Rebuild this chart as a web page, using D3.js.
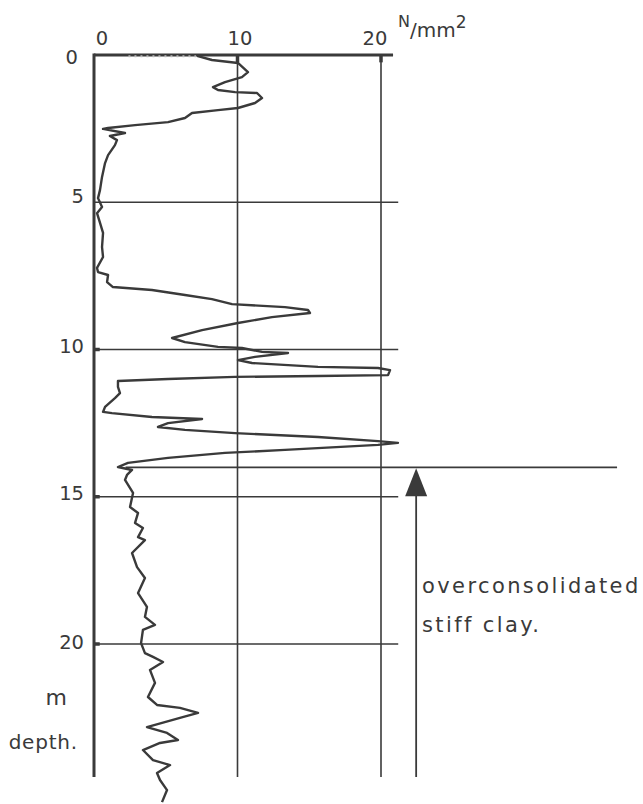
<!DOCTYPE html>
<html>
<head>
<meta charset="utf-8">
<script src="https://cdn.jsdelivr.net/npm/d3@7"></script>
<style>
  html, body { margin: 0; padding: 0; background: #fff; }
  svg text { font-family: "DejaVu Sans", sans-serif; fill: #3a3a3a; }
</style>
</head>
<body>
<svg id="chart" width="643" height="804"></svg>
<script>
// cone resistance (N/mm2) read along depth (m)
const depths = [0.03, 0.17, 0.27, 0.58, 0.75, 0.92, 1.09, 1.19, 1.26, 1.29, 1.46, 1.63, 1.80, 1.87, 1.97,
  2.14, 2.28, 2.38, 2.48, 2.51, 2.65, 2.75, 2.89, 3.06, 3.40, 3.67, 4.14, 4.58, 4.86, 5.16, 5.37, 5.70,
  6.04, 6.52, 6.86, 7.23, 7.37, 7.47, 7.71, 7.88, 7.98, 8.15, 8.29, 8.46, 8.56, 8.66, 8.76, 8.90, 9.10,
  9.34, 9.61, 9.75, 9.91, 9.95, 10.08, 10.12, 10.25, 10.36, 10.46, 10.59, 10.63, 10.70, 10.87, 10.90,
  10.93, 11.00, 11.07, 11.27, 11.48, 11.65, 11.95, 12.12, 12.16, 12.29, 12.36, 12.50, 12.63, 12.73,
  12.84, 12.97, 13.11, 13.17, 13.24, 13.41, 13.51, 13.68, 13.85, 13.99, 14.09, 14.26, 14.43, 14.87,
  15.35, 15.55, 15.89, 16.06, 16.37, 16.47, 16.91, 17.39, 17.76, 18.27, 18.74, 19.08, 19.35, 19.52,
  19.97, 20.31, 20.44, 20.61, 20.88, 21.32, 21.80, 22.07, 22.17, 22.34, 22.51, 22.82, 23.02, 23.26,
  23.36, 23.60, 23.94, 24.11, 24.38, 24.62, 24.96, 25.37];
const resistance = [7.18, 8.22, 10.03, 10.73, 10.31, 9.13, 8.29, 8.64, 9.83, 11.36, 11.71, 11.22, 10.03, 8.64, 6.83,
  6.34, 5.16, 2.86, 0.98, 0.63, 2.16, 1.11, 1.60, 1.46, 0.98, 0.77, 0.56, 0.42, 0.28, 0.56, 0.21, 0.42,
  0.63, 0.56, 0.63, 0.21, 0.28, 0.98, 0.91, 1.32, 4.04, 6.34, 8.22, 9.62, 13.31, 14.91, 15.05, 12.40, 10.03,
  7.53, 5.44, 6.34, 8.64, 10.31, 11.71, 13.52, 11.22, 10.03, 11.01, 15.61, 19.79, 20.63, 20.49, 15.61,
  9.83, 5.16, 1.67, 1.67, 1.81, 1.46, 0.77, 0.63, 1.25, 4.04, 7.53, 5.16, 4.46, 6.34,
  9.83, 15.61, 19.79, 21.18, 19.79, 13.31, 9.13, 5.16, 2.37, 1.67, 2.65, 2.30, 2.16, 2.72,
  2.51, 3.07, 2.86, 3.41, 3.07, 3.55, 2.65, 3.00, 3.55, 3.07, 3.69, 3.55, 4.25, 3.41,
  3.28, 3.55, 4.11, 4.81, 3.90, 4.25, 3.76, 4.39, 5.99, 7.25, 5.99, 3.69, 5.09, 5.85,
  4.60, 3.41, 4.11, 5.30, 4.39, 4.60, 5.09, 4.74];

const xTicks = [0, 10, 20];
const xTickLabels = ['0', '10', '20'];
const depthTicks = [0, 5, 10, 15, 20];
const depthTickLabels = ['0', '5', '10', '15', '20'];
const layerDepth = 14;
const layerLabel = ['overconsolidated', 'stiff clay.'];

const ink = '#3a3a3a';
const svg = d3.select('#chart');
const x = d3.scaleLinear().domain([0, 20]).range([94, 381]);
const y = d3.scaleLinear().domain([0, 20]).range([55, 644]);
const bottomDepth = 24.52;
const gridEnd = 21.2;

// grid
svg.append('g')
  .selectAll('line')
  .data(xTicks.slice(1))
  .enter()
  .append('line')
  .attr('x1', d => x(d)).attr('x2', d => x(d))
  .attr('y1', y(0)).attr('y2', y(bottomDepth))
  .attr('stroke', ink).attr('stroke-width', 1.6);

svg.append('g')
  .selectAll('line')
  .data(depthTicks.slice(1))
  .enter()
  .append('line')
  .attr('x1', x(0)).attr('x2', x(gridEnd))
  .attr('y1', d => y(d)).attr('y2', d => y(d))
  .attr('stroke', ink).attr('stroke-width', 1.6);

// small tick stubs
svg.append('g')
  .selectAll('line')
  .data(xTicks.slice(1))
  .enter()
  .append('line')
  .attr('x1', d => x(d)).attr('x2', d => x(d))
  .attr('y1', y(0)).attr('y2', y(0.25))
  .attr('stroke', ink).attr('stroke-width', 3.5);

svg.append('g')
  .selectAll('line')
  .data(depthTicks.slice(2))
  .enter()
  .append('line')
  .attr('x1', x(0)).attr('x2', x(0.4))
  .attr('y1', d => y(d)).attr('y2', d => y(d))
  .attr('stroke', ink).attr('stroke-width', 3.5);

// axes frame
svg.append('line')
  .attr('x1', x(0)).attr('x2', x(20.84))
  .attr('y1', y(0)).attr('y2', y(0))
  .attr('stroke', ink).attr('stroke-width', 3);
svg.append('line')
  .attr('x1', x(0)).attr('x2', x(0))
  .attr('y1', y(0) - 1.5).attr('y2', y(bottomDepth))
  .attr('stroke', ink).attr('stroke-width', 3);

// faint start of the trace along the top
svg.append('line')
  .attr('x1', x(2.4)).attr('x2', x(7.1))
  .attr('y1', y(0.04)).attr('y2', y(0.04))
  .attr('stroke', '#bbb').attr('stroke-width', 2)
  .attr('stroke-dasharray', '2 4');

// layer boundary
svg.append('line')
  .attr('x1', x(2.2)).attr('x2', x(36.45))
  .attr('y1', y(layerDepth)).attr('y2', y(layerDepth))
  .attr('stroke', ink).attr('stroke-width', 1.8);

// arrow
const arrowX = x(22.45);
svg.append('line')
  .attr('x1', arrowX).attr('x2', arrowX)
  .attr('y1', y(layerDepth) + 10).attr('y2', y(bottomDepth))
  .attr('stroke', ink).attr('stroke-width', 1.8);
svg.append('path')
  .attr('d', `M${arrowX},${y(layerDepth) + 1} L${arrowX - 11},${y(layerDepth) + 29} L${arrowX + 11},${y(layerDepth) + 29} Z`)
  .attr('fill', ink);

// trace
const points = depths.map((d, i) => [resistance[i], d]);
svg.append('path')
  .datum(points)
  .attr('fill', 'none')
  .attr('stroke', ink)
  .attr('stroke-width', 2.4)
  .attr('stroke-linejoin', 'round')
  .attr('d', d3.line().x(d => x(d[0])).y(d => y(d[1])));

// tick labels
const xNudge = [8, 2.5, -6];
svg.append('g')
  .selectAll('text')
  .data(xTicks)
  .enter()
  .append('text')
  .attr('x', (d, i) => x(d) + xNudge[i])
  .attr('y', 45)
  .attr('text-anchor', 'middle')
  .attr('font-size', 19.5)
  .text((d, i) => xTickLabels[i]);

const yNudge = [2, -6, -4, -4, -2];
svg.append('g')
  .selectAll('text')
  .data(depthTicks)
  .enter()
  .append('text')
  .attr('x', (d, i) => (i === 0 ? x(0) - 16 : x(0) - 10))
  .attr('y', (d, i) => y(d) + yNudge[i])
  .attr('dy', '0.36em')
  .attr('text-anchor', 'end')
  .attr('font-size', 19.5)
  .text((d, i) => depthTickLabels[i]);

// unit
const unit = svg.append('text').attr('x', 398).attr('y', 37).attr('font-size', 20);
unit.append('tspan').attr('font-size', 16).attr('dy', -10).text('N');
unit.append('tspan').attr('dy', 10).text('/');
unit.append('tspan').text('mm');
unit.append('tspan').attr('font-size', 17).attr('dy', -9).text('2');

svg.append('text')
  .attr('x', 67).attr('y', 705)
  .attr('text-anchor', 'end')
  .attr('font-size', 22)
  .text('m');
svg.append('text')
  .attr('x', 78).attr('y', 749)
  .attr('text-anchor', 'end')
  .attr('font-size', 20)
  .attr('letter-spacing', 0.8)
  .text('depth.');

svg.append('g')
  .selectAll('text')
  .data(layerLabel)
  .enter()
  .append('text')
  .attr('x', 422)
  .attr('y', (d, i) => 593 + i * 39)
  .attr('font-size', 21)
  .attr('letter-spacing', 2.4)
  .text(d => d);
</script>
</body>
</html>
